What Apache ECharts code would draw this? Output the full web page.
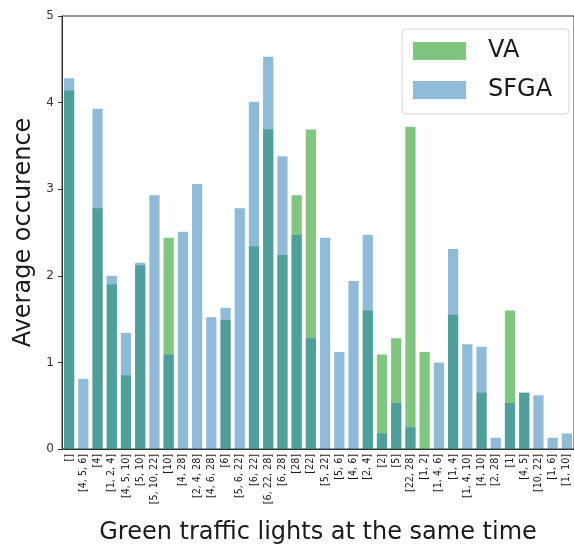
<!DOCTYPE html>
<html>
<head>
<meta charset="utf-8">
<script src="https://cdn.jsdelivr.net/npm/echarts@6/dist/echarts.min.js"></script>
<style>
  html, body { margin: 0; padding: 0; background: #fff; }
  #chart { width: 574px; height: 550px; }
</style>
</head>
<body>
<div id="chart"></div>
<script>
// Combinations of green lights shown at the same moment
const categories = [
  '[]', '[4, 5, 6]', '[4]', '[1, 2, 4]', '[4, 5, 10]', '[5, 10]', '[5, 10, 22]', '[10]',
  '[4, 28]', '[2, 4, 28]', '[4, 6, 28]', '[6]', '[5, 6, 22]', '[6, 22]', '[6, 22, 28]',
  '[6, 28]', '[28]', '[22]', '[5, 22]', '[5, 6]', '[4, 6]', '[2, 4]', '[2]', '[5]',
  '[22, 28]', '[1, 2]', '[1, 4, 6]', '[1, 4]', '[1, 4, 10]', '[4, 10]', '[2, 28]', '[1]',
  '[4, 5]', '[10, 22]', '[1, 6]', '[1, 10]'
];

// Average occurrence per combination
const vaValues = [
  4.14, 0, 2.78, 1.90, 0.85, 2.12, 0, 2.44,
  0, 0, 0, 1.49, 0, 2.34, 3.69,
  2.24, 2.93, 3.69, 0, 0, 0, 1.60, 1.09, 1.28,
  3.72, 1.12, 0, 1.55, 0, 0.65, 0, 1.60,
  0.65, 0, 0, 0
];
const sfgaValues = [
  4.28, 0.81, 3.93, 2.00, 1.34, 2.15, 2.93, 1.09,
  2.51, 3.06, 1.52, 1.63, 2.78, 4.01, 4.53,
  3.38, 2.47, 1.28, 2.44, 1.12, 1.94, 2.47, 0.18, 0.53,
  0.25, 0, 1.00, 2.31, 1.21, 1.18, 0.13, 0.53,
  0.65, 0.62, 0.13, 0.18
];
const yTicks = [0, 1, 2, 3, 4, 5];

const font = 'DejaVu Sans';
const chart = echarts.init(document.getElementById('chart'), null, { renderer: 'canvas' });

chart.setOption({
  animation: false,
  backgroundColor: '#ffffff',
  textStyle: { fontFamily: font },
  grid: {
    left: 62, top: 16, right: -7, bottom: 99,
    show: true, borderColor: '#333', borderWidth: 1, backgroundColor: 'transparent'
  },
  legend: {
    data: ['VA', 'SFGA'],
    orient: 'vertical',
    left: 402, top: 29,
    icon: 'rect',
    itemWidth: 53, itemHeight: 18,
    itemGap: 15,
    padding: [10, 17, 12, 11],
    borderColor: '#d6d6d6', borderWidth: 1, borderRadius: 4,
    backgroundColor: 'rgba(255,255,255,0.8)',
    textStyle: { fontFamily: font, fontSize: 24, color: '#1a1a1a', lineHeight: 24, padding: [0, 0, 0, 17] }
  },
  xAxis: {
    type: 'category',
    data: categories,
    name: 'Green traffic lights at the same time',
    nameLocation: 'middle',
    nameGap: 72,
    nameTextStyle: { fontFamily: font, fontSize: 24, color: '#1a1a1a' },
    axisLine: { lineStyle: { color: '#333', width: 1 } },
    axisTick: { alignWithLabel: true, length: 4, lineStyle: { color: '#333' } },
    axisLabel: { rotate: 90, interval: 0, fontSize: 9.6, fontFamily: font, color: '#1a1a1a', margin: 5 },
    splitLine: { show: false }
  },
  yAxis: {
    type: 'value',
    min: yTicks[0], max: yTicks[yTicks.length - 1], interval: 1,
    name: 'Average occurence',
    nameLocation: 'middle',
    nameGap: 26,
    nameTextStyle: { fontFamily: font, fontSize: 24, color: '#1a1a1a' },
    axisLine: { show: true, lineStyle: { color: '#333', width: 1 } },
    axisTick: { show: true, length: 4, lineStyle: { color: '#333' } },
    axisLabel: { fontSize: 12, fontFamily: font, color: '#333', margin: 8 },
    splitLine: { show: false }
  },
  series: [
    {
      name: 'VA', type: 'bar', data: vaValues,
      barWidth: '72%', barGap: '-100%',
      itemStyle: { color: 'rgba(44,160,44,0.6)' }
    },
    {
      name: 'SFGA', type: 'bar', data: sfgaValues,
      barWidth: '72%', barGap: '-100%',
      itemStyle: { color: 'rgba(31,119,180,0.5)' }
    }
  ]
});
</script>
</body>
</html>
